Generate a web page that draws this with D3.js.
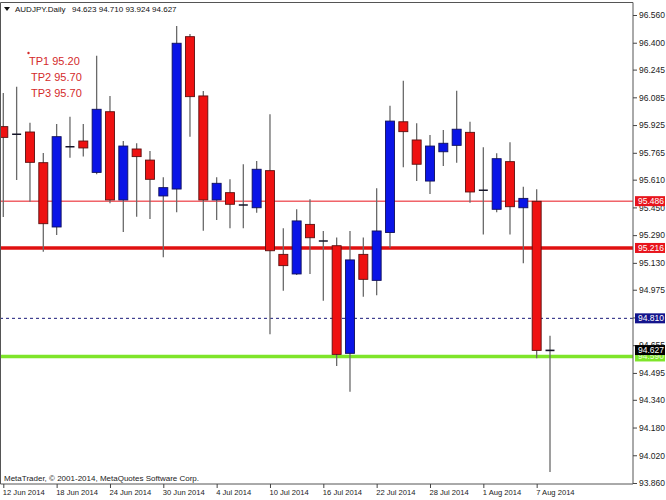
<!DOCTYPE html>
<html>
<head>
<meta charset="utf-8">
<script src="https://cdn.jsdelivr.net/npm/d3@7"></script>
<style>
  html, body { margin: 0; padding: 0; background: #fff; }
  svg { display: block; font-family: "Liberation Sans", Arial, sans-serif; }
</style>
</head>
<body>
<svg id="chart" width="666" height="500"></svg>
<script>
const dates = ["12 Jun 2014","13 Jun 2014","16 Jun 2014","17 Jun 2014","18 Jun 2014","19 Jun 2014","20 Jun 2014",
  "23 Jun 2014","24 Jun 2014","25 Jun 2014","26 Jun 2014","27 Jun 2014","30 Jun 2014","1 Jul 2014","2 Jul 2014",
  "3 Jul 2014","4 Jul 2014","7 Jul 2014","8 Jul 2014","9 Jul 2014","10 Jul 2014","11 Jul 2014","14 Jul 2014",
  "15 Jul 2014","16 Jul 2014","17 Jul 2014","18 Jul 2014","21 Jul 2014","22 Jul 2014","23 Jul 2014","24 Jul 2014",
  "25 Jul 2014","28 Jul 2014","29 Jul 2014","30 Jul 2014","31 Jul 2014","1 Aug 2014","4 Aug 2014","5 Aug 2014",
  "6 Aug 2014","7 Aug 2014","8 Aug 2014"];
const open  = [95.916,95.872,95.885,95.708,95.337,95.800,95.833,95.652,96.002,95.493,95.787,95.723,95.516,95.556,96.435,
  96.093,95.493,95.535,95.464,95.448,95.662,95.179,95.066,95.352,95.256,95.229,94.608,95.179,95.029,95.305,95.944,
  95.839,95.602,95.771,95.808,95.883,95.549,95.439,95.714,95.448,95.485,94.623];
const high  = [96.110,96.146,95.939,95.764,95.931,95.973,95.931,96.325,96.093,95.833,95.820,95.775,95.624,96.497,96.450,
  96.122,95.624,95.612,95.699,95.718,95.987,95.329,95.439,95.497,95.314,95.277,95.314,95.277,95.560,96.037,96.181,
  95.935,95.868,95.897,96.123,95.944,95.797,95.762,95.826,95.569,95.554,94.710];
const low   = [95.395,95.608,95.483,95.194,95.291,95.737,95.743,95.641,95.474,95.308,95.396,95.383,95.162,95.422,95.858,
  95.316,95.377,95.329,95.329,95.419,94.718,94.969,95.060,95.066,94.912,94.535,94.387,94.935,94.943,95.216,95.681,
  95.602,95.527,95.689,95.708,95.477,95.293,95.422,95.293,95.128,94.579,93.924];
const close = [95.854,95.872,95.710,95.356,95.858,95.800,95.793,96.016,95.493,95.804,95.743,95.612,95.564,96.397,96.089,
  95.493,95.589,95.468,95.464,95.670,95.200,95.114,95.372,95.275,95.256,94.602,95.147,95.035,95.314,95.948,95.887,
  95.699,95.804,95.820,95.901,95.539,95.549,95.731,95.454,95.502,94.625,94.627];

const yTicks = [96.560,96.400,96.245,96.085,95.925,95.765,95.610,95.450,95.290,95.130,94.975,94.815,94.655,94.495,
  94.340,94.180,94.020,93.860];
const xTicks = ["12 Jun 2014","18 Jun 2014","24 Jun 2014","30 Jun 2014","4 Jul 2014","10 Jul 2014","16 Jul 2014",
  "22 Jul 2014","28 Jul 2014","1 Aug 2014","7 Aug 2014"];

const hLineValues = [95.486, 95.216, 94.810, 94.590];
const hLineNames  = ["thinRed", "thickRed", "dotted", "green"];
const priceBoxValues = [95.486, 95.216, 94.810, 94.590, 94.627];
const priceBoxNames  = ["red", "red", "navy", "green", "black"];

const title = "AUDJPY.Daily";
const titleOHLC = "94.623 94.710 93.924 94.627";
const tpLabels = ["TP1 95.20", "TP2 95.70", "TP3 95.70"];
const copyright = "MetaTrader, \u00A9 2001-2014, MetaQuotes Software Corp.";

// ---- drawing ----
const svg = d3.select("#chart");
const L = 0, R = 633, T = 2.5, B = 484;
const x = d3.scalePoint().domain(dates).range([3.3, 550]);
const y = d3.scaleLinear().domain([93.86, 96.56]).range([483, 15]);

svg.append("rect").attr("width", 666).attr("height", 500).attr("fill", "#fff");

const plot = svg.append("g");
const clip = svg.append("clipPath").attr("id", "clip");
clip.append("rect").attr("x", L + 0.5).attr("y", T).attr("width", R - L - 0.5).attr("height", B - T);

// horizontal lines
const lineStyle = {
  thinRed:  {stroke: "#e8141c", w: 1, dash: null},
  thickRed: {stroke: "#e01010", w: 3.5, dash: null},
  dotted:   {stroke: "#1a1a7a", w: 1, dash: "3,3"},
  green:    {stroke: "#7ee52a", w: 3.5, dash: null}
};
plot.append("g").selectAll("line").data(hLineValues).join("line")
  .attr("x1", L).attr("x2", R)
  .attr("y1", d => y(d)).attr("y2", d => y(d))
  .attr("stroke", (d, i) => lineStyle[hLineNames[i]].stroke)
  .attr("stroke-width", (d, i) => lineStyle[hLineNames[i]].w)
  .attr("stroke-dasharray", (d, i) => lineStyle[hLineNames[i]].dash);

// candles
const candles = dates.map((d, i) => ({d, o: open[i], h: high[i], l: low[i], c: close[i]}));
const cg = plot.append("g").attr("clip-path", "url(#clip)");
const bw = 9;
cg.selectAll("line.wick").data(candles).join("line").attr("class", "wick")
  .attr("x1", d => x(d.d)).attr("x2", d => x(d.d))
  .attr("y1", d => y(d.h)).attr("y2", d => y(d.l))
  .attr("stroke", "#6a6a6a").attr("stroke-width", 1.3);
const bodies = candles.filter(d => Math.abs(y(d.o) - y(d.c)) >= 1.5);
const dojis = candles.filter(d => Math.abs(y(d.o) - y(d.c)) < 1.5);
cg.selectAll("rect.body").data(bodies).join("rect").attr("class", "body")
  .attr("x", d => x(d.d) - bw / 2)
  .attr("y", d => y(Math.max(d.o, d.c)))
  .attr("width", bw)
  .attr("height", d => Math.abs(y(d.o) - y(d.c)))
  .attr("fill", d => d.c > d.o ? "#0a14e6" : "#ee1111")
  .attr("stroke", d => d.c > d.o ? "#10105a" : "#5a1010")
  .attr("stroke-width", 0.9);
cg.selectAll("line.doji").data(dojis).join("line").attr("class", "doji")
  .attr("x1", d => x(d.d) - bw / 2).attr("x2", d => x(d.d) + bw / 2)
  .attr("y1", d => y((d.o + d.c) / 2)).attr("y2", d => y((d.o + d.c) / 2))
  .attr("stroke", "#141428").attr("stroke-width", 1.6);

// frame
svg.append("path")
  .attr("d", `M${L + 0.5},${B}V${T}H${R}V${B}H${L + 0.5}`)
  .attr("fill", "none").attr("stroke", "#555").attr("stroke-width", 1);

// y axis
const yAxis = svg.append("g").attr("transform", `translate(${R},0)`)
  .call(d3.axisRight(y).tickValues(yTicks).tickSize(4).tickPadding(2).tickFormat(d3.format(".3f")));
yAxis.select(".domain").remove();
yAxis.selectAll("line").attr("stroke", "#444");
yAxis.selectAll("text").attr("font-size", 8.5).attr("fill", "#222").attr("font-family", "Liberation Sans, Arial, sans-serif");

// x axis
const xAxis = svg.append("g").attr("transform", `translate(0,${B})`)
  .call(d3.axisBottom(x).tickValues(xTicks).tickSize(4).tickPadding(2));
xAxis.select(".domain").remove();
xAxis.selectAll("line").attr("stroke", "#444");
xAxis.selectAll("text").attr("font-size", 7.6).attr("fill", "#222").attr("text-anchor", "start")
  .attr("dx", -1).attr("font-family", "Liberation Sans, Arial, sans-serif");

// price boxes on the right
const boxStyle = {
  red:   {fill: "#e8141c", text: "#fff"},
  navy:  {fill: "#14148c", text: "#fff"},
  green: {fill: "#7ee52a", text: "#e8ffd8"},
  black: {fill: "#000", text: "#fff"}
};
const pb = svg.append("g").selectAll("g").data(priceBoxValues).join("g")
  .attr("transform", d => `translate(${R + 2},${y(d)})`);
pb.append("rect").attr("x", 0).attr("y", -5).attr("width", 30).attr("height", 10)
  .attr("fill", (d, i) => boxStyle[priceBoxNames[i]].fill);
pb.append("text").attr("x", 3).attr("y", 3).attr("font-size", 8.5)
  .attr("fill", (d, i) => boxStyle[priceBoxNames[i]].text)
  .text(d => d3.format(".3f")(d));

// title
svg.append("path").attr("d", "M4,7 L10,7 L7,11 Z").attr("fill", "#111");
svg.append("text").attr("x", 15).attr("y", 12).attr("font-size", 8).attr("fill", "#111").text(title);
svg.append("text").attr("x", 72).attr("y", 12).attr("font-size", 8).attr("fill", "#111").text(titleOHLC);

// TP labels
svg.append("circle").attr("cx", 28.5).attr("cy", 53).attr("r", 1.2).attr("fill", "#d42a2a");
svg.append("g").selectAll("text").data(tpLabels).join("text")
  .attr("x", (d, i) => i === 0 ? 29 : 31)
  .attr("y", (d, i) => 65 + i * 16)
  .attr("font-size", 11).attr("fill", "#d42a2a").text(d => d);

// copyright
svg.append("text").attr("x", 4).attr("y", 481).attr("font-size", 8).attr("fill", "#222").text(copyright);
</script>
</body>
</html>
